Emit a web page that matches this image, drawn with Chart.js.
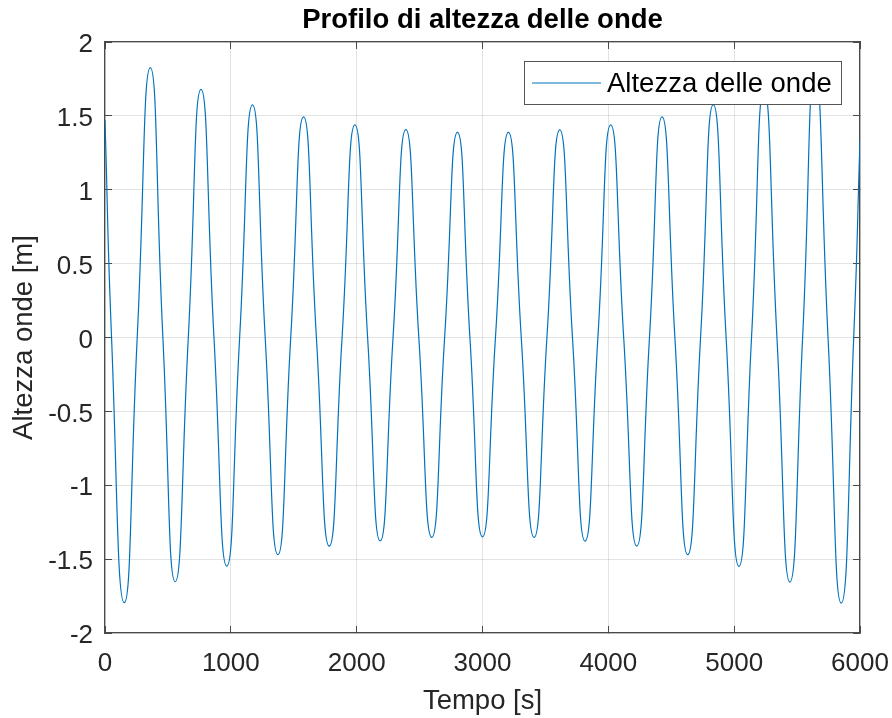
<!DOCTYPE html>
<html lang="it">
<head>
<meta charset="utf-8">
<title>Profilo di altezza delle onde</title>
<script src="https://cdn.jsdelivr.net/npm/chart.js@4.4.1/dist/chart.umd.min.js"></script>
<style>
    html, body { margin: 0; padding: 0; background: #fff; }
    #wrap { width: 892px; height: 718px; }
</style>
</head>
<body>
<div id="wrap"><canvas id="waveChart" width="892" height="718"></canvas></div>
<script>
// tempo [s]: creste, cavi e passaggi per lo zero
const tempo = [
    0, 52, 153, 256, 360, 460, 558, 662, 763, 866,
    968, 1070, 1172, 1273, 1374, 1476, 1578, 1680, 1782, 1884,
    1986, 2087, 2187, 2289, 2391, 2494, 2597, 2699, 2801, 2900,
    3000, 3103, 3206, 3308, 3410, 3512, 3614, 3715, 3815, 3917,
    4019, 4122, 4226, 4327, 4427, 4529, 4631, 4733, 4834, 4936,
    5038, 5138, 5237, 5340, 5443, 5544, 5642, 5746, 5851, 5950,
    6000
];
// altezza delle onde [m]
const altezza = [
    1.47, 0, -1.795, 0, 1.827, 0, -1.653, 0, 1.68, 0,
    -1.547, 0, 1.574, 0, -1.47, 0, 1.493, 0, -1.412, 0,
    1.439, 0, -1.376, 0, 1.407, 0, -1.353, 0, 1.389, 0,
    -1.349, 0, 1.389, 0, -1.353, 0, 1.405, 0, -1.378, 0,
    1.439, 0, -1.412, 0, 1.493, 0, -1.47, 0, 1.576, 0,
    -1.549, 0, 1.68, 0, -1.655, 0, 1.82, 0, -1.798, 0,
    1.34
];
const xTicks = [0, 1000, 2000, 3000, 4000, 5000, 6000];
const yTicks = [-2, -1.5, -1, -0.5, 0, 0.5, 1, 1.5, 2];

const FONT = '"Liberation Sans", Arial, Helvetica, sans-serif';
const axisColor = '#4a4a4a';
const gridColor = 'rgba(0, 0, 0, 0.11)';

Chart.defaults.font.family = FONT;
Chart.defaults.color = '#262626';

// legenda in alto a destra, disegnata sopra la curva
const legendBox = {
    id: 'legendBox',
    afterDatasetsDraw(chart) {
        const { ctx, chartArea } = chart;
        const ds = chart.data.datasets[0];
        ctx.save();
        ctx.font = '27.5px ' + FONT;
        const tw = ctx.measureText(ds.label).width;
        const w = Math.round(8 + 69 + 6 + tw + 9), h = 43;
        const x = Math.round(chartArea.right - 19 - w), y = Math.round(chartArea.top + 19);
        ctx.fillStyle = '#fff';
        ctx.fillRect(x, y, w, h);
        ctx.strokeStyle = '#555';
        ctx.lineWidth = 1;
        ctx.strokeRect(x + 0.5, y + 0.5, w, h);
        ctx.strokeStyle = ds.borderColor;
        ctx.lineWidth = ds.borderWidth;
        ctx.beginPath();
        ctx.moveTo(x + 8, y + 22);
        ctx.lineTo(x + 77, y + 22);
        ctx.stroke();
        ctx.fillStyle = '#000';
        ctx.textBaseline = 'middle';
        ctx.fillText(ds.label, x + 83, y + 23.5);
        ctx.restore();
    }
};

function fixedTicks(values) {
    return axis => { axis.ticks = values.map(v => ({ value: v })); };
}

const ctx = document.getElementById('waveChart').getContext('2d');
const waveChart = new Chart(ctx, {
    type: 'line',
    data: {
        datasets: [{
            label: 'Altezza delle onde',
            data: tempo.map((t, i) => ({ x: t, y: altezza[i] })),
            borderColor: '#0072BD',
            borderWidth: 1.2,
            pointRadius: 0,
            tension: 0.55,
            fill: false
        }]
    },
    options: {
        responsive: false,
        animation: false,
        layout: { padding: 0 },
        plugins: {
            legend: { display: false },
            tooltip: { enabled: false },
            title: {
                display: true,
                text: 'Profilo di altezza delle onde',
                fullSize: false,
                color: '#000',
                font: { size: 27.5, weight: 'bold', lineHeight: 1.2 },
                padding: { top: 3.8, bottom: 5.2 }
            }
        },
        scales: {
            x: {
                type: 'linear',
                position: 'bottom',
                min: 0,
                max: 6000,
                afterBuildTicks: fixedTicks(xTicks),
                afterFit: s => {
                    s.height = 85;
                    s.paddingLeft = 0;
                    s.paddingRight = 0;
                },
                ticks: { autoSkip: false, maxRotation: 0, padding: 22.4, font: { size: 26 }, callback: v => String(v) },
                grid: { color: gridColor, tickColor: axisColor, tickLength: -7 },
                border: { color: axisColor, width: 1.3 },
                title: { display: true, text: 'Tempo [s]', font: { size: 27.5 }, padding: { top: 0, bottom: 0.5 } }
            },
            y: {
                type: 'linear',
                position: 'left',
                min: -2,
                max: 2,
                afterBuildTicks: fixedTicks(yTicks),
                afterFit: s => { s.width = 105; },
                ticks: { autoSkip: false, padding: 19, labelOffset: 3, font: { size: 26 }, callback: v => String(v) },
                grid: { color: gridColor, tickColor: axisColor, tickLength: -7 },
                border: { color: axisColor, width: 1.3 },
                title: { display: true, text: 'Altezza onde [m]', font: { size: 27.5 }, padding: { top: 7.5, bottom: 0 } }
            },
            // assi superiore e destro: solo bordo e tacche
            xTop: {
                type: 'linear',
                position: 'top',
                min: 0,
                max: 6000,
                afterBuildTicks: fixedTicks(xTicks),
                afterFit: s => {
                    s.height = 0;
                    s.paddingLeft = 0;
                    s.paddingRight = 0;
                },
                ticks: { display: false },
                grid: { drawOnChartArea: false, tickColor: axisColor, tickLength: -7 },
                border: { color: axisColor, width: 1.3 }
            },
            yRight: {
                type: 'linear',
                position: 'right',
                min: -2,
                max: 2,
                afterBuildTicks: fixedTicks(yTicks),
                afterFit: s => { s.width = 32; },
                ticks: { display: false },
                grid: { drawOnChartArea: false, tickColor: axisColor, tickLength: -7 },
                border: { color: axisColor, width: 1.3 }
            }
        }
    },
    plugins: [legendBox]
});
</script>
</body>
</html>
